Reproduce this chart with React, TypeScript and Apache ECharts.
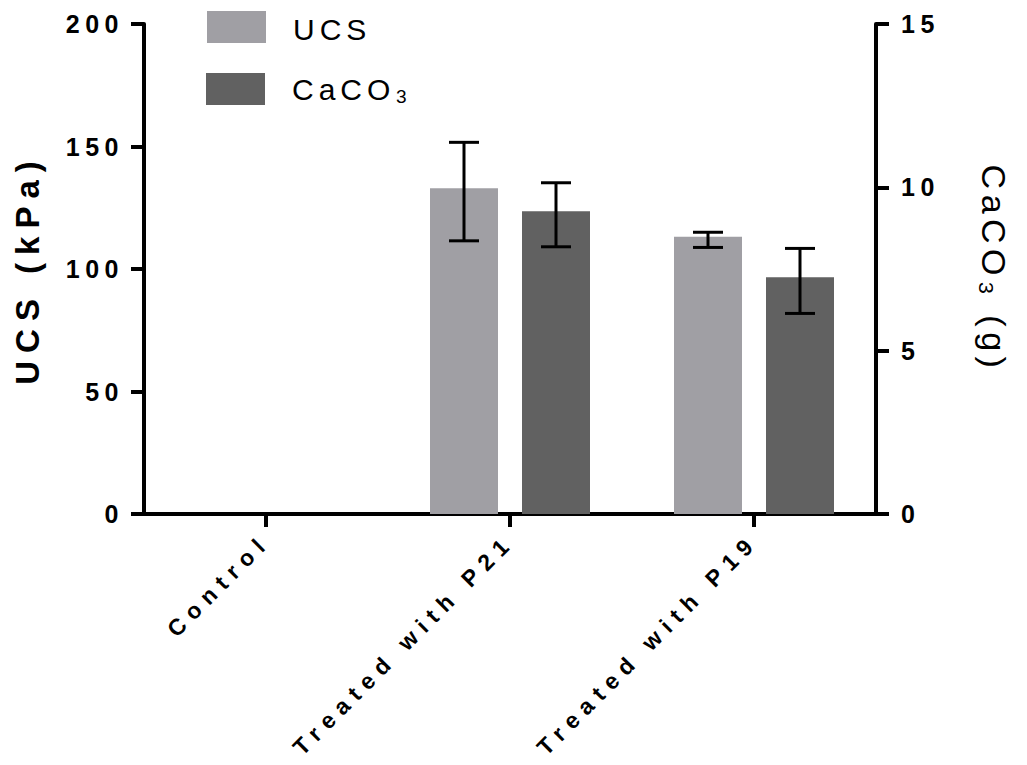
import React, { useEffect, useRef } from 'react';
import * as echarts from 'echarts';

// Groups on the x axis
const categories = ['Control', 'Treated with P21', 'Treated with P19'];

// Unconfined compressive strength (kPa): mean and error-bar limits
const ucsMean = [0, 133, 113.2];
const ucsLow: (number | null)[] = [null, 111.5, 108.8];
const ucsHigh: (number | null)[] = [null, 151.7, 115.0];

// Precipitated calcium carbonate (g): mean and error-bar limits
const caco3Mean = [0, 9.27, 7.25];
const caco3Low: (number | null)[] = [null, 8.18, 6.14];
const caco3High: (number | null)[] = [null, 10.14, 8.13];

// Axis ranges
const ucsAxis = { min: 0, max: 200, interval: 50 };
const caco3Axis = { min: 0, max: 15, interval: 5 };

const UCS_NAME = 'UCS';
const CACO3_NAME = 'CaCO₃';
const UCS_COLOR = '#a09fa4';
const CACO3_COLOR = '#616161';
const FONT = 'Liberation Sans, Arial, Helvetica, sans-serif';

const BAR_WIDTH = 68;
const BAR_GAP = 24;
const CAP_WIDTH = 30;

function errorBars(low: (number | null)[], high: (number | null)[], axisIndex: number, offset: number) {
  const data: number[][] = [];
  low.forEach((lo, i) => {
    const hi = high[i];
    if (lo != null && hi != null) data.push([i, lo, hi]);
  });
  return {
    type: 'custom',
    yAxisIndex: axisIndex,
    z: 10,
    silent: true,
    encode: { x: 0, y: [1, 2] },
    data,
    renderItem: (_params: any, api: any) => {
      const i = api.value(0);
      const lo = api.coord([i, api.value(1)]);
      const hi = api.coord([i, api.value(2)]);
      const x = lo[0] + offset;
      const half = CAP_WIDTH / 2;
      const style = { stroke: '#000', lineWidth: 3 };
      return {
        type: 'group',
        children: [
          { type: 'line', shape: { x1: x, y1: hi[1], x2: x, y2: lo[1] }, style },
          { type: 'line', shape: { x1: x - half, y1: hi[1], x2: x + half, y2: hi[1] }, style },
          { type: 'line', shape: { x1: x - half, y1: lo[1], x2: x + half, y2: lo[1] }, style },
        ],
      };
    },
  };
}

const axisCommon = {
  axisLine: { show: true, lineStyle: { color: '#000', width: 4 } },
  axisTick: { show: true, length: 13, lineStyle: { color: '#000', width: 4 } },
  splitLine: { show: false },
};

export default function App() {
  const ref = useRef<HTMLDivElement>(null);

  useEffect(() => {
    if (!ref.current) return;
    const chart = echarts.init(ref.current, undefined, { renderer: 'svg' });
    const offset = (BAR_WIDTH + BAR_GAP) / 2;

    chart.setOption({
      animation: false,
      backgroundColor: '#fff',
      grid: { left: 144, right: 151, top: 24, bottom: 251, containLabel: false, outerBoundsMode: 'none' },
      xAxis: {
        type: 'category',
        data: categories,
        ...axisCommon,
        axisTick: { ...axisCommon.axisTick, alignWithLabel: true },
        axisLabel: {
          interval: 0,
          rotate: 45,
          margin: 24,
          color: '#000',
          fontFamily: FONT,
          fontWeight: 'bold',
          fontSize: 23,
        },
      },
      yAxis: [
        {
          type: 'value',
          position: 'left',
          ...ucsAxis,
          ...axisCommon,
          axisLabel: { color: '#000', fontFamily: FONT, fontWeight: 'bold', fontSize: 25, margin: 20 },
          name: 'UCS (kPa)',
          nameLocation: 'middle',
          nameGap: 100,
          nameTextStyle: { color: '#000', fontFamily: FONT, fontWeight: 'bold', fontSize: 33 },
        },
        {
          type: 'value',
          position: 'right',
          ...caco3Axis,
          ...axisCommon,
          axisLabel: { color: '#000', fontFamily: FONT, fontWeight: 'bold', fontSize: 25, margin: 25 },
          name: 'CaCO₃ (g)',
          nameLocation: 'middle',
          nameRotate: -90,
          nameGap: 101,
          nameTextStyle: { color: '#000', fontFamily: FONT, fontWeight: 'normal', fontSize: 34 },
        },
      ],
      series: [
        {
          name: UCS_NAME,
          type: 'bar',
          yAxisIndex: 0,
          data: ucsMean,
          barWidth: BAR_WIDTH,
          barGap: `${(BAR_GAP / BAR_WIDTH) * 100}%`,
          itemStyle: { color: UCS_COLOR },
        },
        {
          name: CACO3_NAME,
          type: 'bar',
          yAxisIndex: 1,
          data: caco3Mean,
          barWidth: BAR_WIDTH,
          barGap: `${(BAR_GAP / BAR_WIDTH) * 100}%`,
          itemStyle: { color: CACO3_COLOR },
        },
        errorBars(ucsLow, ucsHigh, 0, -offset),
        errorBars(caco3Low, caco3High, 1, offset),
      ],
      graphic: [
        { type: 'rect', x: 207, y: 11, shape: { x: 0, y: 0, width: 59, height: 32 }, style: { fill: UCS_COLOR } },
        {
          type: 'text', x: 293, y: 29,
          style: { text: UCS_NAME, fill: '#000', font: `30px ${FONT}`, verticalAlign: 'middle', align: 'left' },
        },
        { type: 'rect', x: 206, y: 73, shape: { x: 0, y: 0, width: 59, height: 32 }, style: { fill: CACO3_COLOR } },
        {
          type: 'text', x: 292, y: 89,
          style: { text: CACO3_NAME, fill: '#000', font: `30px ${FONT}`, verticalAlign: 'middle', align: 'left' },
        },
      ],
    });

    return () => chart.dispose();
  }, []);

  return (
    <>
      <style>{`
        .ucs-chart text[style*="25px"] { letter-spacing: 5.5px; }
        .ucs-chart text[style*="23px"] { letter-spacing: 7.5px; }
        .ucs-chart text[style*="30px"] { letter-spacing: 5px; }
        .ucs-chart text[style*="33px"] { letter-spacing: 8px; }
        .ucs-chart text[style*="34px"] { letter-spacing: 5.5px; }
      `}</style>
      <div
        ref={ref}
        className="ucs-chart"
        style={{ position: 'absolute', left: 0, top: 0, width: 1027, height: 765 }}
      />
    </>
  );
}
